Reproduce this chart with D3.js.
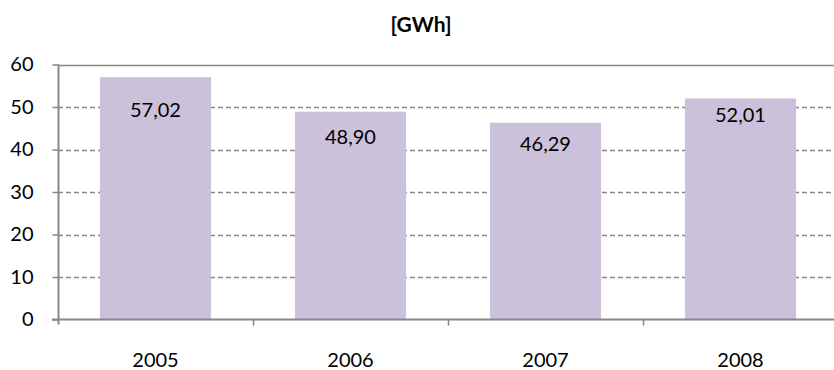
<!DOCTYPE html>
<html>
<head>
<meta charset="utf-8">
<script src="https://cdn.jsdelivr.net/npm/d3@7"></script>
<style>
  html, body { margin: 0; padding: 0; background: #fff; }
  svg { display: block; }
  text { font-family: Lato, "Open Sans", sans-serif; fill: #000; }
</style>
</head>
<body>
<svg id="chart" width="834" height="370"></svg>
<script>
// ---- data ----
const categories = ["2005", "2006", "2007", "2008"];
const values = [57.02, 48.90, 46.29, 52.01];
const valueLabels = ["57,02", "48,90", "46,29", "52,01"];
const yTicks = [0, 10, 20, 30, 40, 50, 60];
const title = "[GWh]";
// label distance (px) below bar top, as placed in the reference
const labelDrop = [32, 24, 20, 16];

// ---- layout ----
const W = 834, H = 370;
const x0 = 58, bandW = 195;
const yBottom = 319.5, yTop = 64.5;

const svg = d3.select("#chart");

const x = d3.scaleBand()
  .domain(categories)
  .range([x0, x0 + bandW * categories.length])
  .paddingInner(0.43)
  .paddingOuter(0.215);

const y = d3.scaleLinear().domain([0, 60]).range([yBottom, yTop]);

// gridlines
const grid = svg.append("g");
grid.selectAll("line")
  .data(yTicks.filter(d => d > 0))
  .join("line")
  .attr("x1", x0).attr("x2", W)
  .attr("y1", d => Math.round(y(d)) + 0.5)
  .attr("y2", d => Math.round(y(d)) + 0.5)
  .attr("stroke", "#878787")
  .attr("stroke-width", d => d === 60 ? 1.6 : 1.3)
  .attr("stroke-dasharray", d => d === 60 ? null : "5,3");

// bars
svg.append("g").selectAll("rect")
  .data(values)
  .join("rect")
  .attr("x", (d, i) => x(categories[i]))
  .attr("width", x.bandwidth())
  .attr("y", d => y(d))
  .attr("height", d => y(0) - y(d))
  .attr("fill", "#CCC1DA");

// value labels
svg.append("g").selectAll("text")
  .data(values)
  .join("text")
  .attr("x", (d, i) => x(categories[i]) + x.bandwidth() / 2)
  .attr("y", (d, i) => y(d) + labelDrop[i])
  .attr("text-anchor", "middle")
  .attr("dominant-baseline", "central")
  .style("font-size", "20px")
  .text((d, i) => valueLabels[i]);

// y axis
const yAxis = d3.axisLeft(y).tickValues(yTicks).tickSize(6).tickPadding(19)
  .tickFormat(d3.format("d"));
const gy = svg.append("g").attr("transform", `translate(${x0 + 0.5},0)`).call(yAxis);
gy.select(".domain").attr("stroke", "#878787").attr("stroke-width", 2)
  .attr("d", `M0,${yTop}V${yBottom + 5}`);
gy.selectAll(".tick line").attr("stroke", "#878787").attr("stroke-width", 1.5);
gy.selectAll(".tick text").style("font-size", "20px").style("font-family", "Lato, sans-serif").attr("fill", "#000");

// x axis (ticks at band boundaries)
const gx = svg.append("g").attr("transform", `translate(0,${yBottom})`);
gx.append("line").attr("x1", x0 - 6).attr("x2", W).attr("y1", 0).attr("y2", 0)
  .attr("stroke", "#878787").attr("stroke-width", 2);
gx.selectAll("line.tk")
  .data(d3.range(1, categories.length))
  .join("line").attr("class", "tk")
  .attr("x1", i => x0 + bandW * i + 0.5).attr("x2", i => x0 + bandW * i + 0.5)
  .attr("y1", 0).attr("y2", 6)
  .attr("stroke", "#878787").attr("stroke-width", 1.5);
gx.selectAll("text")
  .data(categories)
  .join("text")
  .attr("x", d => x(d) + x.bandwidth() / 2)
  .attr("y", 39)
  .attr("text-anchor", "middle")
  .attr("dominant-baseline", "central")
  .style("font-size", "20px")
  .text(d => d);

// title
svg.append("text")
  .attr("x", 421).attr("y", 23)
  .attr("text-anchor", "middle")
  .attr("dominant-baseline", "central")
  .style("font-size", "21px")
  .style("font-weight", "bold")
  .text(title);
</script>
</body>
</html>
